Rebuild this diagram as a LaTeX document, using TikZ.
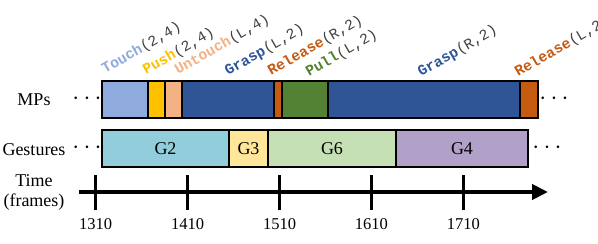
\documentclass[tikz,border=0pt]{standalone}
\usepackage{fontspec}
\setmainfont{Liberation Serif}
\setmonofont{Liberation Mono}
\usetikzlibrary{arrows.meta}
\definecolor{TouchBlue}{HTML}{8FAADC}
\definecolor{PushGold}{HTML}{FFC000}
\definecolor{UntouchPeach}{HTML}{F4B183}
\definecolor{GraspNavy}{HTML}{2F5597}
\definecolor{ReleaseRust}{HTML}{C55A11}
\definecolor{PullGreen}{HTML}{548235}
\definecolor{GtwoCyan}{HTML}{92CDDC}
\definecolor{GthreeSand}{HTML}{FFE699}
\definecolor{GsixMint}{HTML}{C5E0B4}
\definecolor{GfourLilac}{HTML}{B1A0C7}
\definecolor{ArgGray}{HTML}{404040}

\begin{document}
\begin{tikzpicture}[x=1pt,y=-1pt,font=\fontsize{18}{20}\selectfont,
  seg/.style={draw=black,line width=1.5pt},
  dots/.style={font=\fontsize{24}{24}\selectfont},
  mplabel/.style={rotate=30,anchor=base west,inner sep=0pt,font=\fontsize{14.8}{17}\selectfont\ttfamily}]
\useasboundingbox (0,0) rectangle (598,244);
\clip (0,0) rectangle (598,244);
% row titles
\node (mps) at (34,100) {MPs};
\node (gest) at (34,150) {Gestures};
\node[align=center,inner sep=0pt] (time) at (34,192) {Time\\(frames)};
% MPs bar
\foreach \a/\b/\c in {102/148/TouchBlue,148/165/PushGold,165/182/UntouchPeach,182/274/GraspNavy,274/282/ReleaseRust,282/328/PullGreen,328/520/GraspNavy,520/538/ReleaseRust}{\draw[seg,fill=\c] (\a,81) rectangle (\b,118);}
\foreach \x/\y/\c/\n/\p [count=\i] in {105/74/TouchBlue/Touch/{(2,4)},146/75/PushGold/Push/{(2,4)},178/75/UntouchPeach/Untouch/{(L,4)},228/76/GraspNavy/Grasp/{(L,2)},271/76/ReleaseRust/Release/{(R,2)},309/77/PullGreen/Pull/{(L,2)},421/77/GraspNavy/Grasp/{(R,2)},518/77/ReleaseRust/Release/{(L,2)}}{\node[mplabel] (mp\i) at (\x,\y) {\textcolor{\c}{\bfseries\n}\textcolor{ArgGray}{\p}};}
\node[dots] (mpsl) at (87,99) {$\cdots$};
\node[dots] (mpsr) at (554,99) {$\cdots$};
% Gestures bar
\foreach \a/\b/\c/\n in {102/229/GtwoCyan/G2,229/268/GthreeSand/G3,268/396/GsixMint/G6,396/528/GfourLilac/G4}{\draw[seg,fill=\c] (\a,130) rectangle (\b,167);
\node (\n) at ({(\a+\b)/2},148.5) {\n};}
\node[dots] (gestl) at (87,148) {$\cdots$};
\node[dots] (gestr) at (547,148) {$\cdots$};
% time axis
\coordinate (axstart) at (79,192);
\coordinate (axend) at (548,192);
\draw[line width=4.5pt,-{Triangle[length=16pt,width=15pt]}] (axstart) -- (axend);
\foreach \f [count=\k from 0] in {1310,1410,1510,1610,1710}{\draw[line width=2.5pt] (95.7+\k*91.9,175) -- (95.7+\k*91.9,210);
\node[font=\fontsize{16.5}{18}\selectfont] (t\f) at (95.7+\k*91.9,224) {\f};}
\end{tikzpicture}
\end{document}
